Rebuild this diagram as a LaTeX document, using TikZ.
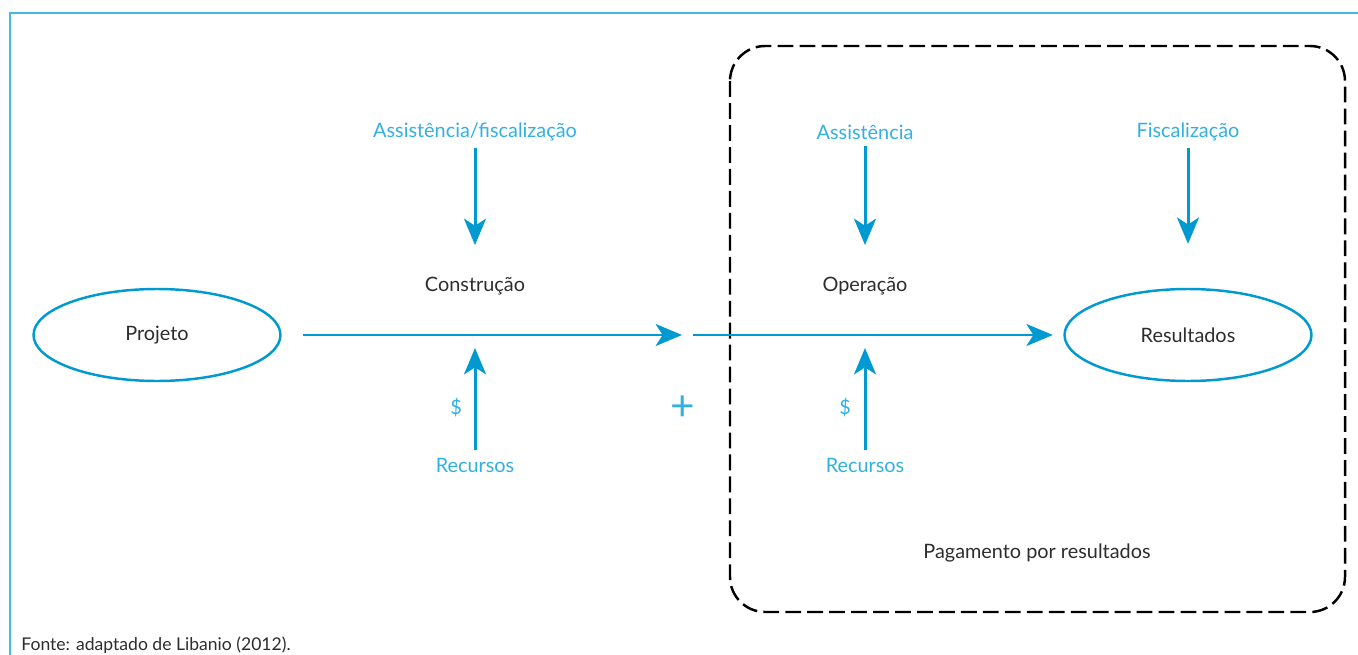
\documentclass[tikz,border=0pt]{standalone}
\usepackage{fontspec}
\setmainfont{Lato}
\usetikzlibrary{arrows.meta,shapes.geometric}

\definecolor{flowblue}{RGB}{0,153,210}
\definecolor{labelblue}{RGB}{50,176,226}
\definecolor{framecol}{RGB}{72,186,226}
\definecolor{textgray}{RGB}{45,45,45}

\tikzset{
  flow/.style={draw=flowblue, line width=1.7pt,
    -{Stealth[length=15pt,width=12.5pt,inset=4pt]}},
  blob/.style={ellipse, draw=flowblue, line width=1.4pt,
    minimum width=4.94cm, minimum height=1.84cm, text=textgray,
    font=\fontsize{11.3}{13}\selectfont},
  bluetext/.style={inner sep=0pt, text=labelblue, font=\fontsize{11.3}{13}\selectfont},
  graytext/.style={inner sep=0pt, text=textgray, font=\fontsize{11.3}{13}\selectfont},
  phasebox/.style={draw=black, line width=1.4pt, dash pattern=on 9pt off 3.5pt,
    rounded corners=20pt}
}

\begin{document}
\begin{tikzpicture}[x=0.02cm, y=-0.02cm]
    \useasboundingbox (0,0) rectangle (1358,655);

    % Frame
    \draw[framecol, line width=1.2pt] (10,655) |- (1358,13);

    % Pay-for-results area
    \draw[phasebox] (730,46) rectangle (1345,612);
    \node[graytext] (pag) at (1037,553) {Pagamento por resultados};

    % Start and end
    \node[blob] (proj) at (157,335) {Projeto};
    \node[blob] (res) at (1188,335) {Resultados};
    \coordinate (j1) at (682,335);
    \coordinate (j2) at (693,335);
    \coordinate (in1) at (475,335);
    \coordinate (in2) at (865,335);

    % Phases
    \node[graytext] (constr) at (475,286) {Construção};
    \node[graytext] (oper) at (865,286) {Operação};

    % Inputs from above
    \node[bluetext] (asf) at (475,132) {Assistência/fiscalização};
    \node[bluetext] (ass) at (865,132) {Assistência};
    \node[bluetext] (fisc) at (1188,132) {Fiscalização};

    % Inputs from below
    \node[bluetext] (rec1) at (475,465) {Recursos};
    \node[bluetext] (rec2) at (865,465) {Recursos};
    \node[bluetext] (cash1) at (456,408) {\$};
    \node[bluetext] (cash2) at (845,408) {\$};
    \node[bluetext, font=\fontsize{24}{24}\selectfont] (plus) at (683,408) {+};

    % Main flow
    \draw[flow, shorten <=12pt] (proj) -- (j1);
    \draw[flow, shorten >=6pt] (j2) -- (res);

    % Vertical arrows
    \draw[flow, shorten <=3.5pt, shorten >=18pt] (asf) -- (constr);
    \draw[flow, shorten <=3.5pt, shorten >=18pt] (ass) -- (oper);
    \draw[flow, shorten <=3.5pt, shorten >=25pt] (fisc) -- (res);
    \draw[flow, shorten <=4pt, shorten >=7.4pt] (rec1) -- (in1);
    \draw[flow, shorten <=4pt, shorten >=7.4pt] (rec2) -- (in2);

    % Source
    \node[graytext, anchor=west, font=\fontsize{10}{12}\selectfont] (fonte) at (21,645) {Fonte: adaptado de Libanio (2012).};
\end{tikzpicture}
\end{document}
